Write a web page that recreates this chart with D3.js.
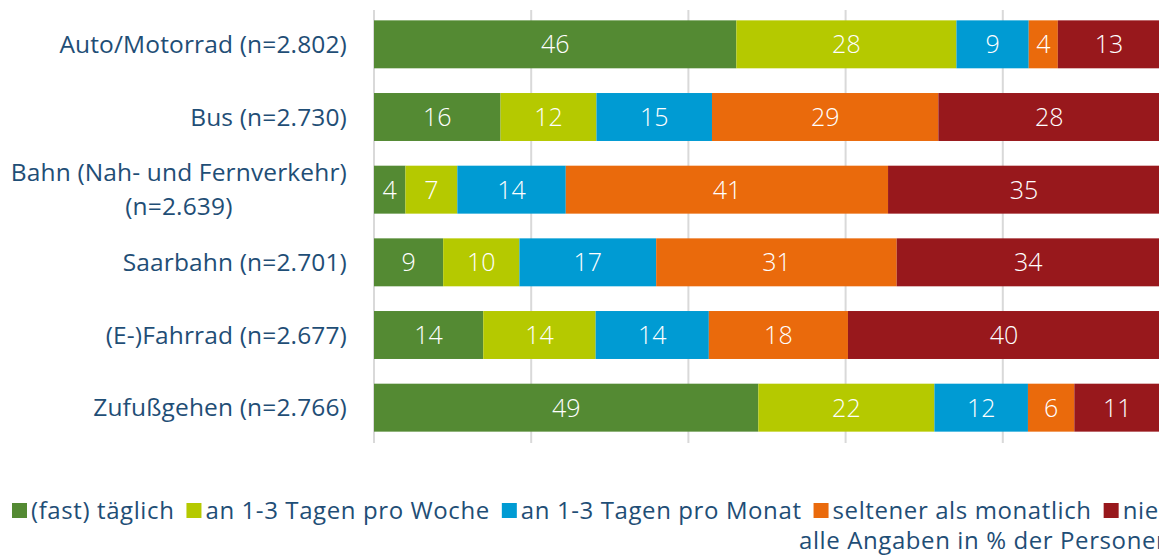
<!DOCTYPE html>
<html lang="de">
<head>
<meta charset="UTF-8">
<title>Verkehrsmittelnutzung</title>
<script src="https://d3js.org/d3.v7.min.js"></script>
<style>
  body { margin: 0; background: #fff; overflow: hidden; }
  svg { display: block; font-family: "Open Sans", sans-serif; }
  .cat { fill: #1f4e76; font-size: 24.5px; letter-spacing: 0.15px; }
  .val { fill: #fff; font-size: 25px; font-weight: 300; }
  .leg { fill: #1f4e76; font-size: 24px; letter-spacing: 0.6px; }
</style>
</head>
<body>
<svg width="1159" height="556"></svg>
<script>
// categories (label lines)
const categories = [
  ["Auto/Motorrad (n=2.802)"],
  ["Bus (n=2.730)"],
  ["Bahn (Nah- und Fernverkehr)", "(n=2.639)"],
  ["Saarbahn (n=2.701)"],
  ["(E-)Fahrrad (n=2.677)"],
  ["Zufußgehen (n=2.766)"]
];
const seriesNames = ["(fast) täglich", "an 1-3 Tagen pro Woche", "an 1-3 Tagen pro Monat", "seltener als monatlich", "nie"];
const seriesColors = ["#548a33", "#b5c900", "#009bd3", "#ea6a0c", "#98181c"];

// percentages per series, one per category
const taeglich = [46.1, 16.1, 4.0, 8.8, 13.9, 48.9];
const woche    = [28.0, 12.2, 6.6, 9.7, 14.3, 22.4];
const monat    = [9.2, 14.7, 13.8, 17.4, 14.4, 11.9];
const seltener = [3.7, 28.8, 41.0, 30.6, 17.7, 5.9];
const nie      = [13.0, 28.2, 34.6, 33.5, 39.7, 10.9];
const xTicks = [0, 20, 40, 60, 80, 100];
const note = "alle Angaben in % der Personen";

const series = [taeglich, woche, monat, seltener, nie];

const svg = d3.select("svg");

const x = d3.scaleLinear().domain([0, 100]).range([374, 1160]);
const y = d3.scaleBand()
  .domain(d3.range(categories.length))
  .range([8, 444])
  .paddingInner(0.34)
  .paddingOuter(0.17);

// grid
svg.append("g")
  .selectAll("line")
  .data(xTicks)
  .join("line")
  .attr("x1", d => x(d)).attr("x2", d => x(d))
  .attr("y1", 10).attr("y2", 443)
  .attr("stroke", "#d9d9d9")
  .attr("stroke-width", 2);

// stacked data
const rows = categories.map((c, i) => {
  let acc = 0;
  return series.map((s, j) => {
    const seg = { cat: i, ser: j, v: s[i], x0: acc, x1: acc + s[i] };
    acc += s[i];
    return seg;
  });
}).flat();

svg.append("g")
  .selectAll("rect")
  .data(rows)
  .join("rect")
  .attr("x", d => x(d.x0))
  .attr("width", d => x(d.x1) - x(d.x0))
  .attr("y", d => y(d.cat))
  .attr("height", y.bandwidth())
  .attr("fill", d => seriesColors[d.ser]);

svg.append("g")
  .selectAll("text")
  .data(rows)
  .join("text")
  .attr("class", "val")
  .attr("x", d => (x(d.x0) + x(d.x1)) / 2)
  .attr("y", d => y(d.cat) + y.bandwidth() / 2)
  .attr("dy", "0.36em")
  .attr("text-anchor", "middle")
  .text(d => Math.round(d.v));

// category labels
const labelX = 347;
categories.forEach((lines, i) => {
  const cy = y(i) + y.bandwidth() / 2;
  const lh = 34;
  const top = cy - (lines.length - 1) * lh / 2;
  const first = svg.append("text")
    .attr("class", "cat")
    .attr("x", labelX)
    .attr("y", top)
    .attr("dy", "0.35em")
    .attr("text-anchor", "end")
    .text(lines[0]);
  if (lines.length > 1) {
    const w = first.node().getComputedTextLength();
    lines.slice(1).forEach((l, k) => {
      svg.append("text")
        .attr("class", "cat")
        .attr("x", labelX - w / 2)
        .attr("y", top + (k + 1) * lh)
        .attr("dy", "0.35em")
        .attr("text-anchor", "middle")
        .text(l);
    });
  }
});

// legend
const legend = svg.append("g");
let lx = 12;
seriesNames.forEach((name, j) => {
  legend.append("rect")
    .attr("x", lx).attr("y", 503)
    .attr("width", 15).attr("height", 15)
    .attr("fill", seriesColors[j]);
  const t = legend.append("text")
    .attr("class", "leg")
    .attr("x", lx + 19)
    .attr("y", 519)
    .text(name);
  lx += 19 + t.node().getComputedTextLength() + 12;
});

svg.append("text")
  .attr("class", "leg")
  .attr("x", 799)
  .attr("y", 549)
  .text(note);
</script>
</body>
</html>
